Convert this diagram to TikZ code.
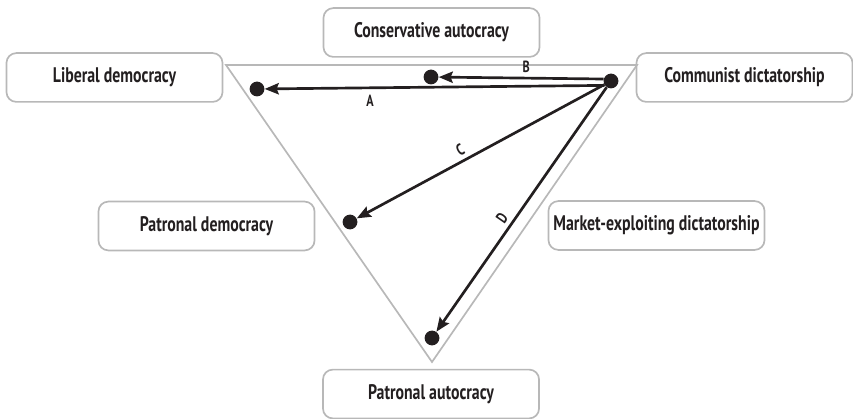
\documentclass[tikz,border=0pt]{standalone}
\usepackage{fontspec}
\setmainfont[FakeStretch=0.75]{PT Sans}
\usetikzlibrary{arrows.meta}

\definecolor{ink}{RGB}{35,31,32}
\tikzset{
  regime/.style={draw=black!28, line width=1.2pt, rounded corners=7pt, text=ink,
    minimum width=5.4cm, minimum height=1.22cm, font=\fontsize{15}{17}\selectfont\bfseries},
  state/.style={circle, fill=ink, inner sep=0pt, minimum size=0.37cm},
  transition/.style={-{Stealth[length=10pt,width=8pt,inset=1.5pt]}, line width=1.9pt, ink},
  tag/.style={font=\fontsize{11.5}{13}\selectfont\bfseries, inner sep=2pt, text=ink}
}

\begin{document}
\begin{tikzpicture}[x=0.025cm,y=-0.025cm]
\useasboundingbox (0,0) rectangle (853,419);
\coordinate (tl) at (226,65);
\coordinate (tr) at (637,65);
\coordinate (bt) at (432,362);
 \draw[-, color=black!28, line width=1.2pt] (tl) -- (tr) -- (bt) -- cycle;

 \node[regime] (libdem) at (114.5,77.5) {Liberal democracy};
 \node[regime] (consaut) at (431.5,32.5) {Conservative autocracy};
 \node[regime] (commdic) at (744.5,77.5) {Communist dictatorship};
 \node[regime] (patdem) at (206.5,226) {Patronal democracy};
 \node[regime] (mktdic) at (656.5,225.5) {Market-exploiting dictatorship};
 \node[regime] (pataut) at (431,394) {Patronal autocracy};

 \node[state] (lib) at (257,89) {};
 \node[state] (cons) at (431,77) {};
 \node[state] (comm) at (611,81) {};
 \node[state] (pdem) at (350,222) {};
 \node[state] (paut) at (432,338) {};

 \draw[transition] (comm.215) -- (lib) node[tag, pos=0.69, below=2pt]{A};
 \draw[transition] (comm.165) -- (cons) node[tag, pos=0.47, above=1pt]{B};
 \draw[transition] (comm) -- (pdem) node[tag, pos=0.56, sloped, above=1pt]{C};
 \draw[transition] (comm) -- (paut) node[tag, pos=0.56, sloped, above=1pt]{D};
\end{tikzpicture}
\end{document}
